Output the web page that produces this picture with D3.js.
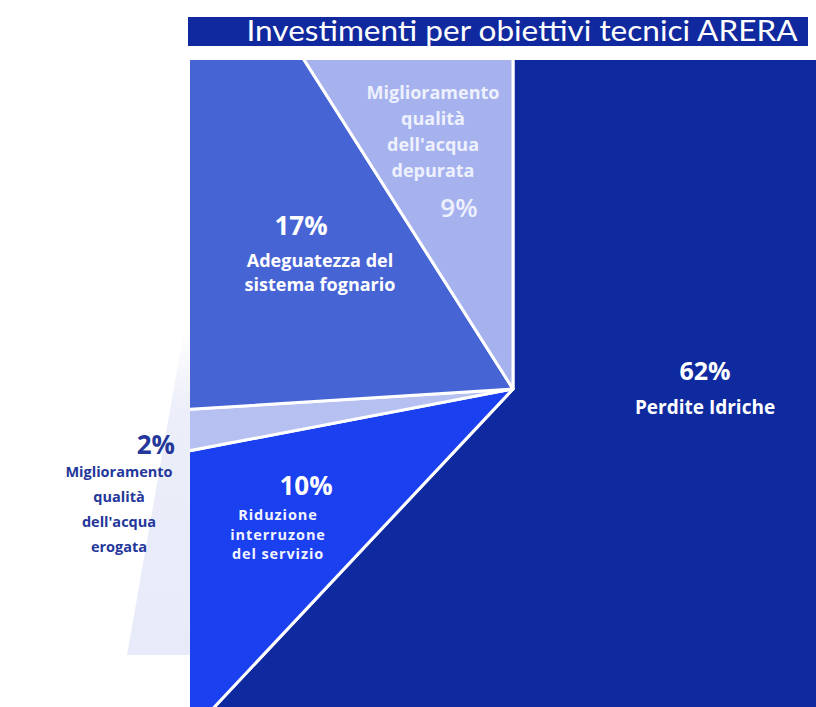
<!DOCTYPE html>
<html>
<head>
<meta charset="utf-8">
<script src="https://cdn.jsdelivr.net/npm/d3@7"></script>
<style>
  html, body { margin: 0; padding: 0; background: #ffffff; }
  svg { display: block; }
  text { font-family: "Open Sans", Lato, sans-serif; }
  text.title { font-family: Lato, "Open Sans", sans-serif; }
</style>
</head>
<body>
<svg id="chart" width="816" height="707"></svg>
<script>
// ---- data ----
const title = "Investimenti per obiettivi tecnici ARERA";
const categories = [
  "Perdite Idriche",
  "Riduzione interruzone del servizio",
  "Miglioramento qualità dell'acqua erogata",
  "Adeguatezza del sistema fognario",
  "Miglioramento qualità dell'acqua depurata"
];
const values = [62, 10, 2, 17, 9];
const percentLabels = ["62%", "10%", "2%", "17%", "9%"];
const labelLines = [
  ["Perdite Idriche"],
  ["Riduzione", "interruzone", "del servizio"],
  ["Miglioramento", "qualità", "dell'acqua", "erogata"],
  ["Adeguatezza del", "sistema fognario"],
  ["Miglioramento", "qualità", "dell'acqua", "depurata"]
];
const colors = ["#0f2a9f", "#1b40f0", "#b6c0f1", "#4764d5", "#a5b2ee"];

// ---- layout ----
const W = 816, H = 707;
const box = { x0: 190, y0: 60, x1: 816, y1: 707 };
const center = { x: 513, y: 389 };
const titleBar = { x: 188, y: 17, w: 620, h: 29 };

const svg = d3.select("#chart");
const defs = svg.append("defs");

// title bar
svg.append("rect")
  .attr("x", titleBar.x).attr("y", titleBar.y)
  .attr("width", titleBar.w).attr("height", titleBar.h)
  .attr("fill", "#10299e");
svg.append("text")
  .attr("class", "title")
  .attr("x", 522)
  .attr("y", 41)
  .attr("text-anchor", "middle")
  .attr("fill", "#ffffff")
  .attr("font-size", 29)
  .attr("textLength", 551)
  .attr("lengthAdjust", "spacingAndGlyphs")
  .text(title);

// pale shadow of the small slice outside the box
const shadowGrad = defs.append("linearGradient")
  .attr("id", "shadowGrad").attr("x1", 0).attr("y1", 0).attr("x2", 0).attr("y2", 1);
shadowGrad.append("stop").attr("offset", "0%").attr("stop-color", "#ffffff");
shadowGrad.append("stop").attr("offset", "25%").attr("stop-color", "#eceef9");
shadowGrad.append("stop").attr("offset", "100%").attr("stop-color", "#e7eaf8");
svg.append("path")
  .attr("d", d3.line()([[box.x0 - 6, 330], [box.x0, 330], [box.x0, 655], [box.x0 - 63, 655]]) + "Z")
  .attr("fill", "url(#shadowGrad)");

// clip
defs.append("clipPath").attr("id", "boxClip")
  .append("rect")
  .attr("x", box.x0).attr("y", box.y0)
  .attr("width", box.x1 - box.x0).attr("height", box.y1 - box.y0);

const pie = d3.pie().sort(null).startAngle(0).endAngle(2 * Math.PI);
const arcs = pie(values);
const R = 1200;
const arc = d3.arc().innerRadius(0).outerRadius(R);

const g = svg.append("g").attr("clip-path", "url(#boxClip)");
g.selectAll("path.slice")
  .data(arcs)
  .enter().append("path")
  .attr("class", "slice")
  .attr("transform", `translate(${center.x},${center.y})`)
  .attr("d", arc)
  .attr("fill", (d, i) => colors[i])
  .attr("stroke", "#ffffff")
  .attr("stroke-width", 3)
  .attr("stroke-linejoin", "round");

// ---- labels ----
const labelLayout = [
  { pct: [705, 373], pctSize: 25, pctWeight: 700, pctAnchor: "middle", lines: [705, 407], lineSize: 19, lh: 20, ls: 0, fill: "#ffffff", pctFill: "#ffffff" },
  { pct: [306, 488], pctSize: 26, pctWeight: 700, pctAnchor: "middle", lines: [278, 515], lineSize: 14.5, lh: 19.5, ls: 0.9, fill: "#f2f4ff", pctFill: "#ffffff" },
  { pct: [175, 447], pctSize: 26, pctWeight: 700, pctAnchor: "end", lines: [119, 472], lineSize: 14.5, lh: 25, ls: 0, fill: "#24379a", pctFill: "#24379a" },
  { pct: [301, 228], pctSize: 26, pctWeight: 700, pctAnchor: "middle", lines: [320, 261], lineSize: 18, lh: 23.5, ls: 0, fill: "#ffffff", pctFill: "#ffffff" },
  { pct: [459, 210], pctSize: 26, pctWeight: 600, pctAnchor: "middle", lines: [433, 93], lineSize: 18, lh: 26, ls: 0, fill: "#eef1fd", pctFill: "#eef1fd" }
];

const lg = svg.append("g");
arcs.forEach((a, i) => {
  const L = labelLayout[i];
  lg.append("text")
    .attr("x", L.pct[0]).attr("y", L.pct[1])
    .attr("text-anchor", L.pctAnchor)
    .attr("dominant-baseline", "middle")
    .attr("font-weight", L.pctWeight)
    .attr("font-size", L.pctSize)
    .attr("fill", L.pctFill)
    .text(percentLabels[i]);
  const t = lg.append("text")
    .attr("text-anchor", "middle")
    .attr("font-weight", "bold")
    .attr("font-size", L.lineSize)
    .attr("letter-spacing", L.ls)
    .attr("fill", L.fill);
  labelLines[i].forEach((line, j) => {
    t.append("tspan")
      .attr("x", L.lines[0])
      .attr("y", L.lines[1] + j * L.lh + L.lineSize * 0.36)
      .text(line);
  });
});
</script>
</body>
</html>
